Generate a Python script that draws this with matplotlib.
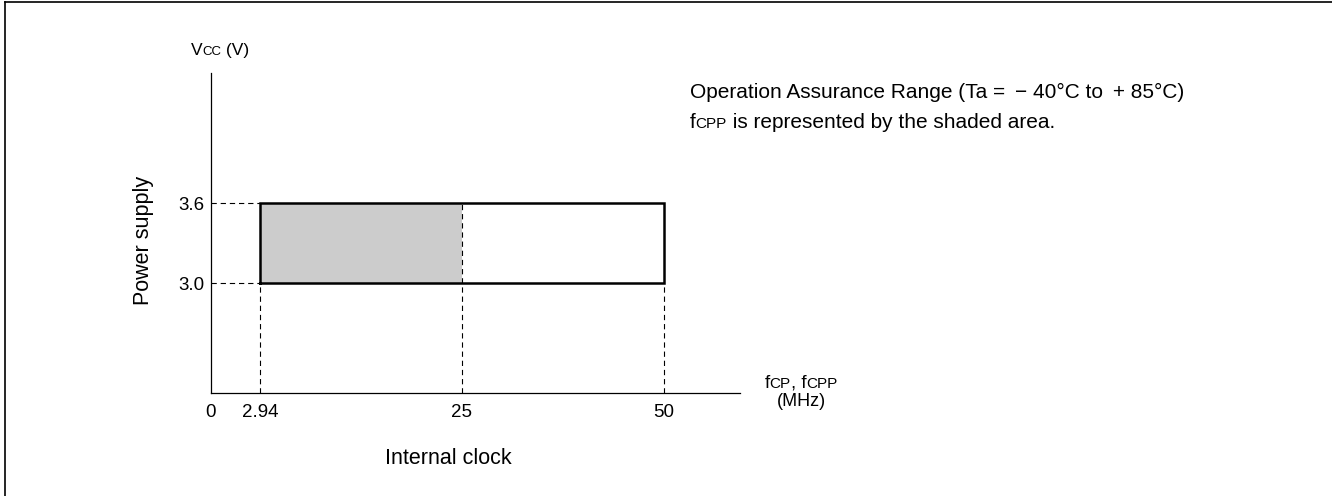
import matplotlib.pyplot as plt
import numpy as np
from matplotlib.lines import Line2D
from matplotlib.scale import FuncScale

plt.rcParams['font.family'] = ['Liberation Sans', 'DejaVu Sans']
plt.rcParams['lines.scale_dashes'] = False

# Operating range (MHz / V)
f_min = 2.94
f_cpp_max = 25
f_cp_max = 50
vcc_low = 3.0
vcc_high = 3.6

x_ticks = [0, 2.94, 25, 50]
x_tick_labels = ['0', '2.94', '25', '50']
y_ticks = [3.0, 3.6]
y_tick_labels = ['3.0', '3.6']

W, H = 1332, 496

# clock axis is drawn schematic (not to scale): piecewise-linear mapping
x_anchor = [0, 2.94, 25, 50, 80]
x_span = [0, 49, 251, 453, 695.4]


def fwd(x):
    return np.interp(x, x_anchor, x_span)


def inv(p):
    return np.interp(p, x_span, x_anchor)


fig = plt.figure(figsize=(W / 100, H / 100), dpi=100)
ax = fig.add_axes([211 / W, 103 / H, 529 / W, 320 / H])
ax.set_xscale(FuncScale(ax.xaxis, (fwd, inv)))
ax.set_xlim(0, inv(529))
ax.set_ylim(2.175, 4.575)

dash = (0, (3.8, 2.8))
ybot = ax.get_ylim()[0]

# shaded fCPP region and the fCP box
ax.fill_between([f_min, f_cpp_max], vcc_low, vcc_high, color='#cccccc', lw=0, zorder=1)
ax.plot([f_min, f_cp_max, f_cp_max, f_min, f_min],
        [vcc_low, vcc_low, vcc_high, vcc_high, vcc_low],
        color='black', lw=1.8, zorder=3, solid_joinstyle='miter')

# guide lines
for v in (vcc_low, vcc_high):
    ax.plot([0, f_min], [v, v], color='black', lw=0.8, ls=dash, zorder=2)
for f in (f_min, f_cp_max):
    ax.plot([f, f], [ybot, vcc_low], color='black', lw=0.8, ls=dash, zorder=2)
ax.plot([f_cpp_max, f_cpp_max], [ybot, vcc_high], color='black', lw=0.8, ls=dash, zorder=2)

for side in ('top', 'right'):
    ax.spines[side].set_visible(False)
for side in ('left', 'bottom'):
    ax.spines[side].set_linewidth(0.9)

ax.set_xticks(x_ticks)
ax.set_xticklabels(x_tick_labels, fontsize=13.5)
ax.set_yticks(y_ticks)
ax.set_yticklabels(y_tick_labels, fontsize=13.5)
ax.tick_params(axis='x', length=0, pad=8)
ax.tick_params(axis='y', length=0, pad=5)
ax.minorticks_off()

renderer = fig.canvas.get_renderer()


def rich_text(x, y, runs, ha='left'):
    # draw (text, size) runs side by side on one baseline, x/y in pixels from top-left
    arts = []
    for s, size in runs:
        arts.append(fig.text(0, 0, s, fontsize=size, va='baseline', ha='left'))
    widths = [a.get_window_extent(renderer).width for a in arts]
    total = sum(widths)
    cx = x - total / 2 if ha == 'center' else x
    for a, w in zip(arts, widths):
        a.set_position((cx / W, 1 - y / H))
        cx += w


rich_text(220, 55, [('V', 12.5), ('CC', 9.5), (' (V)', 12.5)], ha='center')
fig.text(143 / W, 1 - 240 / H, 'Power supply', fontsize=15.5, rotation=90, ha='center', va='center')
fig.text(448 / W, 1 - 458 / H, 'Internal clock', fontsize=15.5, ha='center', va='center')
rich_text(801, 388, [('f', 13.5), ('CP', 11), (', f', 13.5), ('CPP', 11)], ha='center')
fig.text(801 / W, 1 - 401 / H, '(MHz)', fontsize=13, ha='center', va='center')

rich_text(690, 98, [('Operation Assurance Range (Ta = \u2009\u2212 40\u00b0C to \u2009+ 85\u00b0C)', 15)])
rich_text(690, 128, [('f', 15), ('CPP', 11), (' is represented by the shaded area.', 15)])

# frame around the drawing
fig.add_artist(Line2D([4.5 / W, 4.5 / W], [0, 1 - 1.5 / H], color='black', lw=1.2))
fig.add_artist(Line2D([4.5 / W, 1], [1 - 1.5 / H, 1 - 1.5 / H], color='black', lw=1.2))

fig.savefig('out.png', dpi=100)
